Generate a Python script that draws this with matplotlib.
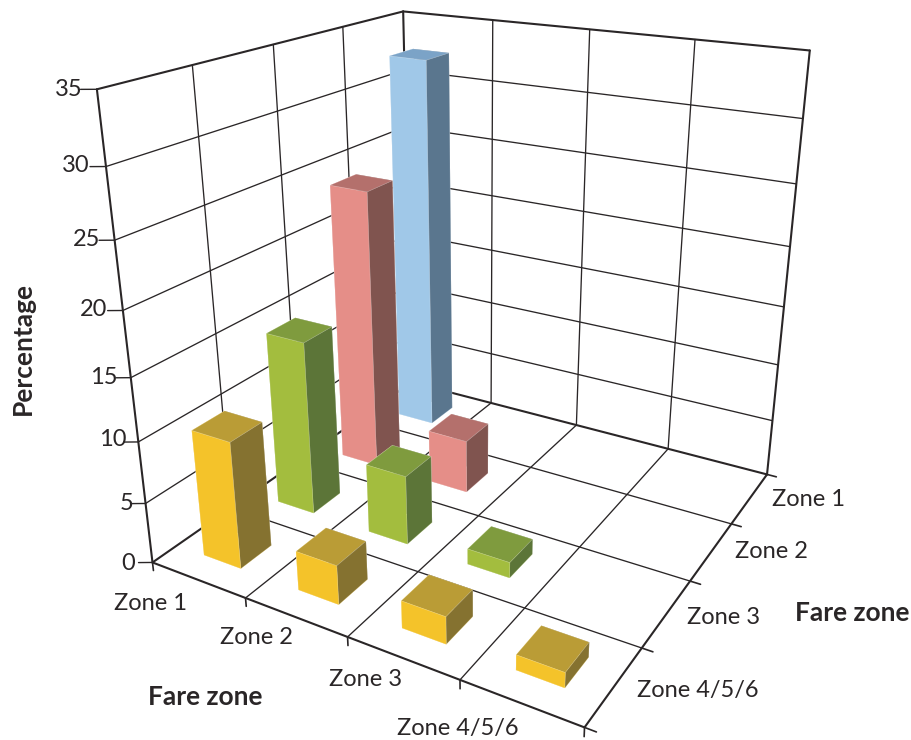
import matplotlib
matplotlib.use("Agg")
import matplotlib.pyplot as plt

W, H = 912, 740
FONT = "Lato"
INK = "#2a2627"

x_zones = ["Zone 1", "Zone 2", "Zone 3", "Zone 4/5/6"]
y_zones = ["Zone 1", "Zone 2", "Zone 3", "Zone 4/5/6"]
pct_ticks = [0, 5, 10, 15, 20, 25, 30, 35]

# percentage per destination zone, one list per origin zone
zone1_pct = [32.5]
zone2_pct = [23.9, 4.6]
zone3_pct = [14.6, 5.8, 1.3]
zone456_pct = [10.4, 3.2, 2.2, 1.2]

# colours: bottom, top, -y, +y, -x, +x faces
def faces(front, top, side):
    return [front, top, front, side, front, side]

yellow = faces("#f4c32a", "#ba9c36", "#857230")
green = faces("#a3bd3e", "#7f9b3e", "#5c7538")
pink = faces("#e58e88", "#b4706c", "#80544f")
blue = faces("#a0c8e8", "#7ba3c7", "#5a768e")

rows = [(3, zone1_pct, blue), (2, zone2_pct, pink), (1, zone3_pct, green), (0, zone456_pct, yellow)]

BAR = 0.40

fig = plt.figure(figsize=(W/100, H/100), dpi=100)
ax = fig.add_axes([63/W, 16/H, 809/W, 809/H], projection="3d", computed_zorder=False)
ax.set_box_aspect((1, 1, 1))
ax.set_proj_type("persp", focal_length=0.2854)
ax.view_init(elev=22.4, azim=-60)
ax.set_axis_off()


def line(xs, ys, zs, lw=0.95):
    ax.plot(xs, ys, zs, color=INK, lw=lw, zorder=1, solid_capstyle="round", clip_on=False)


# floor grid
for i in (1, 2, 3):
    line([i, i], [0, 4], [0, 0])
    line([0, 4], [i, i], [0, 0])

# wall grid
for i in (1, 2, 3):
    line([0, 0], [i, i], [0, 35])
    line([i, i], [4, 4], [0, 35])
for p in pct_ticks[1:-1]:
    line([0, 0], [0, 4], [p, p])
    line([0, 4], [4, 4], [p, p])

# outer frame
for xs, ys, zs in [
    ([0, 4], [0, 0], [0, 0]), ([4, 4], [0, 4], [0, 0]),
    ([0, 0], [0, 4], [0, 0]), ([0, 4], [4, 4], [0, 0]),
    ([0, 0], [0, 0], [0, 35]), ([0, 0], [4, 4], [0, 35]), ([4, 4], [4, 4], [0, 35]),
    ([0, 0], [0, 4], [35, 35]), ([0, 4], [4, 4], [35, 35]),
]:
    line(xs, ys, zs, lw=1.5)

# tick marks
for i in range(5):
    line([i, i], [0, 0], [0, -0.7], lw=1.2)
    line([4, 4.09], [i, i], [0, 0], lw=1.2)
for p in pct_ticks:
    line([0, -0.1], [0, -0.06], [p, p], lw=1.0)

# bars, drawn from the far corner forwards
bars = []
for row, values, colors in rows:
    for col, v in enumerate(values):
        bars.append((col - row, col, row, v, colors))
for order, col, row, v, colors in sorted(bars, key=lambda b: b[0]):
    ax.bar3d(col + 0.5 - BAR/2, row + 0.5 - BAR/2, 0, BAR, BAR, v, color=colors, shade=False,
             edgecolor=(1, 1, 1, 0.3), linewidth=0.4, zorder=10 + order)

ax.set_xlim(0, 4)
ax.set_ylim(0, 4)
ax.set_zlim(0, 35)


def label(x, y, s, **kw):
    kw.setdefault("fontsize", 17)
    fig.text(x/W, 1 - y/H, s, family=FONT, color=INK, va="center", **kw)


for s, x, y in zip(pct_ticks, [135, 133, 127, 118, 107, 100, 90, 83], [563, 504, 440, 377, 310, 240, 165, 89]):
    label(x, y, str(s), ha="right")
for s, x, y in zip(x_zones, [151, 256, 366, 458], [604, 638, 680, 729]):
    label(x, y, s, ha="center")
for s, x, y in zip(y_zones, [809, 771, 724, 698], [499, 552, 617, 691]):
    label(x, y, s, ha="center")
label(205, 697, "Fare zone", ha="center", fontweight="bold", fontsize=19)
label(852, 613, "Fare zone", ha="center", fontweight="bold", fontsize=19)
label(23, 348, "Percentage", ha="center", fontweight="bold", fontsize=19, rotation=90)

fig.savefig("out.png", dpi=100)
